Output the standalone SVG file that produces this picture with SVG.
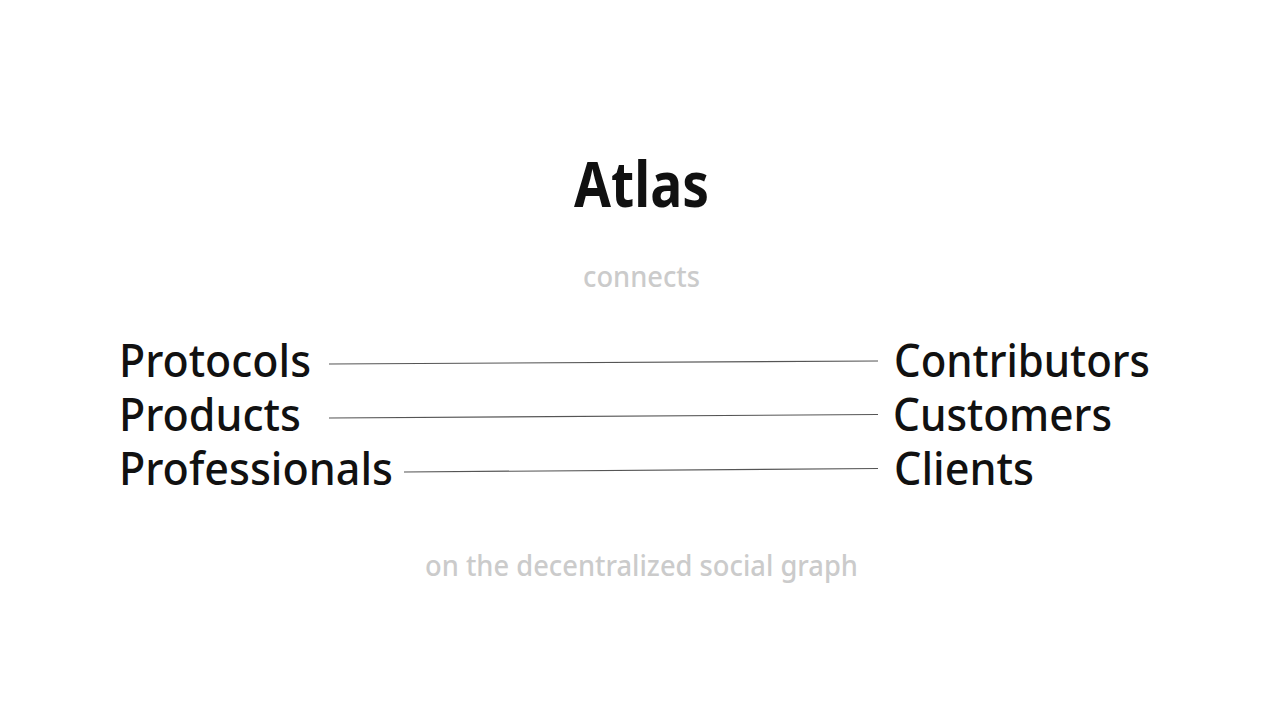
<svg xmlns="http://www.w3.org/2000/svg" width="1280" height="714" viewBox="0 0 1280 714">
<style>
.t{font-family:"Noto Sans","Liberation Sans",sans-serif;fill:#111;}
.lab{font-size:45px;font-weight:500;}
.sub{font-size:28px;font-weight:500;fill:#cbcbcb;}
.ln{stroke:#555;stroke-width:1.2;fill:none;}
</style>
<rect width="1280" height="714" fill="#fff"/>
<g id="title"><text class="t" x="574" y="207" font-size="62" font-weight="700" textLength="135" lengthAdjust="spacingAndGlyphs">Atlas</text></g>
<g id="connects"><text class="t sub" x="583" y="287" textLength="117" lengthAdjust="spacingAndGlyphs">connects</text></g>
<g id="protocols"><text class="t lab" x="119" y="377" textLength="192" lengthAdjust="spacingAndGlyphs">Protocols</text></g>
<g id="products"><text class="t lab" x="119" y="431" textLength="182" lengthAdjust="spacingAndGlyphs">Products</text></g>
<g id="professionals"><text class="t lab" x="119" y="485" textLength="274" lengthAdjust="spacingAndGlyphs">Professionals</text></g>
<g id="contributors"><text class="t lab" x="894" y="377" textLength="256" lengthAdjust="spacingAndGlyphs">Contributors</text></g>
<g id="customers"><text class="t lab" x="893" y="431" textLength="219" lengthAdjust="spacingAndGlyphs">Customers</text></g>
<g id="clients"><text class="t lab" x="894" y="485" textLength="140" lengthAdjust="spacingAndGlyphs">Clients</text></g>
<g id="connectors">
<line class="ln" x1="329" y1="364" x2="878" y2="361"/>
<line class="ln" x1="329" y1="418" x2="878" y2="414.5"/>
<line class="ln" x1="404" y1="472" x2="878" y2="468.5"/>
</g>
<g id="footer"><text class="t sub" x="425" y="576" textLength="433" lengthAdjust="spacingAndGlyphs">on the decentralized social graph</text></g>
</svg>
